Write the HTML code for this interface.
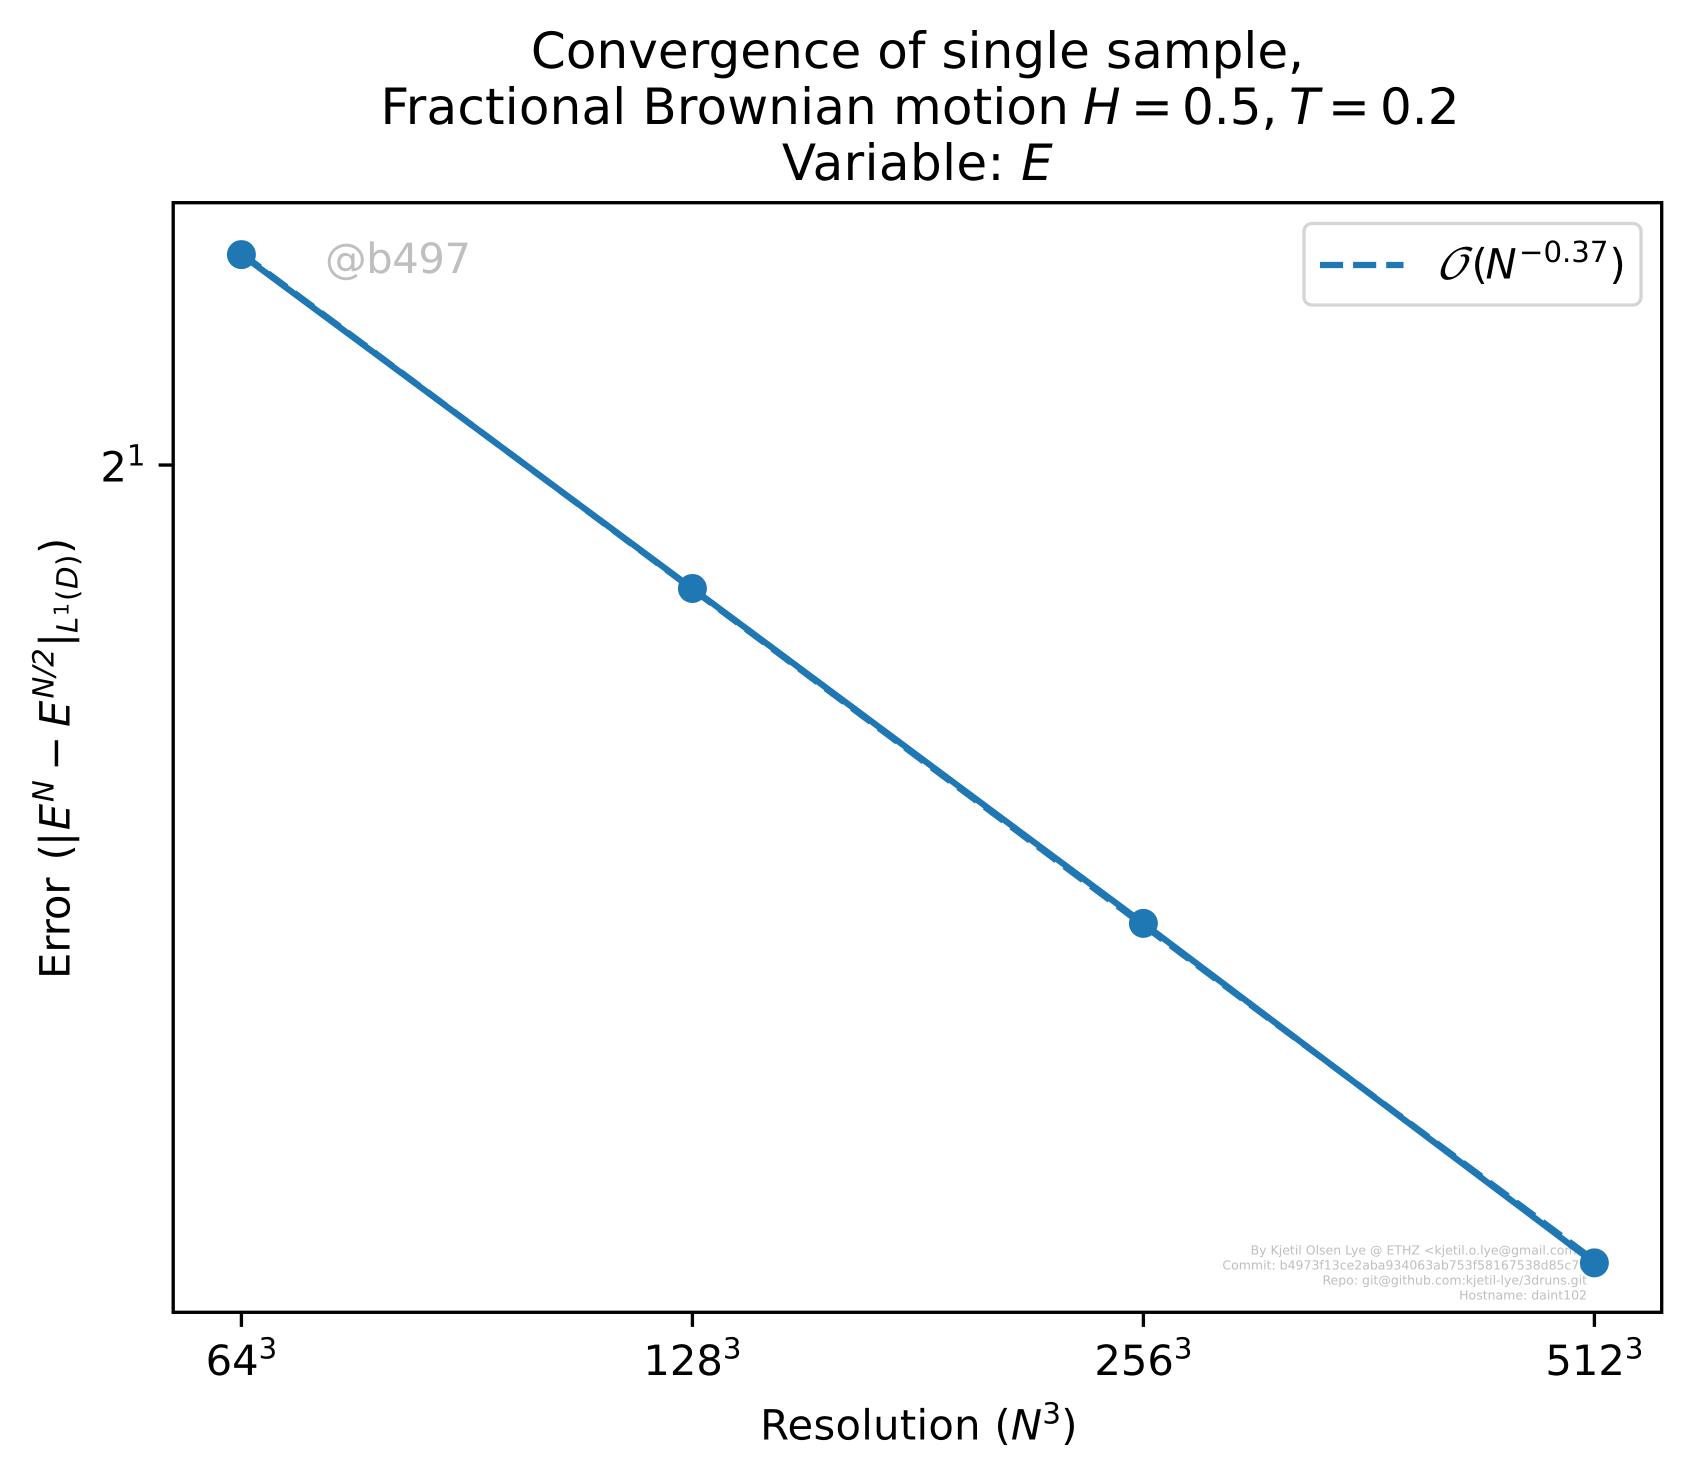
<!DOCTYPE html>
<html lang="en">
<head>
<meta charset="utf-8">
<title>Convergence of single sample</title>
<style>
html,body{margin:0;padding:0;background:#fff;}
svg{display:block;}
text{font-family:"DejaVu Sans","Liberation Sans",sans-serif;fill:#000;text-rendering:geometricPrecision;}
.it{font-style:italic;}
.wm{fill:#bfbfbf;}
</style>
</head>
<body>
<svg id="chart" xmlns="http://www.w3.org/2000/svg" width="1691" height="1478" viewBox="0 0 1691 1478">
  <rect x="0" y="0" width="1691" height="1478" fill="#fff"/>

  <g font-size="50">
    <text x="917.5" y="68" text-anchor="middle" letter-spacing="0.07">Convergence of single sample,</text>
    <text y="124"><tspan x="380.5" letter-spacing="0.17">Fractional Brownian motion</tspan><tspan class="it" x="1083">H</tspan><tspan x="1131">=</tspan><tspan x="1182">0.5,</tspan><tspan class="it" x="1289">T</tspan><tspan x="1328">=</tspan><tspan x="1380">0.2</tspan></text>
    <text x="917.5" y="180" text-anchor="middle" letter-spacing="0.4">Variable: <tspan class="it">E</tspan></text>
  </g>

  <text font-size="41.67" transform="translate(69.3,977) rotate(-90)"><tspan x="-2" y="0">Error</tspan><tspan x="116.5" y="0">(</tspan><tspan x="131" y="0">|</tspan><tspan class="it" x="146.8" y="0">E</tspan><tspan class="it" font-size="29.2" x="175" y="-16">N</tspan><tspan x="206.3" y="0">−</tspan><tspan class="it" x="250" y="0">E</tspan><tspan class="it" font-size="29.2" x="278.5" y="-16">N/2</tspan><tspan x="330" y="0">|</tspan><tspan class="it" font-size="29.2" x="344" y="8">L</tspan><tspan font-size="20.5" x="361" y="-1">1</tspan><tspan font-size="29.2" x="376" y="8">(</tspan><tspan class="it" font-size="29.2" x="388" y="8">D</tspan><tspan font-size="29.2" x="411" y="8">)</tspan><tspan x="423" y="0">)</tspan></text>

  <text font-size="41.67" x="919" y="1439.5" text-anchor="middle" letter-spacing="0.3">Resolution (<tspan class="it">N</tspan><tspan font-size="29.2" dy="-16">3</tspan><tspan dy="16">)</tspan></text>

  <g id="ticks"></g>

  <text class="wm" font-size="41.67" x="325" y="273" letter-spacing="-0.4">@b497</text>
  <g class="wm" font-size="12.5" text-anchor="end">
    <text class="wm" x="1587" y="1254.5">By Kjetil Olsen Lye @ ETHZ &lt;kjetil.o.lye@gmail.com&gt;</text>
    <text class="wm" x="1587" y="1269.5">Commit: b4973f13ce2aba934063ab753f58167538d85c7a</text>
    <text class="wm" x="1587" y="1284.5">Repo: git@github.com:kjetil-lye/3druns.git</text>
    <text class="wm" x="1587" y="1299.5">Hostname: daint102</text>
  </g>

  <g id="series"></g>

  <rect x="173.2" y="202.7" width="1488.5" height="1109.6" fill="none" stroke="#000" stroke-width="3.33"/>

  <g>
    <rect x="1304" y="223.5" width="337" height="81.5" rx="8" ry="8" fill="#fff" fill-opacity="0.8" stroke="#d5d5d5" stroke-width="3.33"/>
    <line x1="1320" y1="265" x2="1403.5" y2="265" stroke="#1f77b4" stroke-width="6.25" stroke-dasharray="23.1 10"/>
    <text font-size="41.67" y="278.3"><tspan class="it" x="1435.5" font-family="'DejaVu Math TeX Gyre','DejaVu Serif',serif">𝒪</tspan><tspan x="1471.5">(</tspan><tspan class="it" x="1485.5">N</tspan><tspan font-size="29.2" x="1519" y="262">−0.37</tspan><tspan x="1609.5" y="278.3">)</tspan></text>
  </g>
</svg>
<script>
// Chart data
var resolutions = [64, 128, 256, 512];
var errorValues = [2.349, 1.820, 1.409, 1.087];
var fitValues = [2.351, 1.819, 1.407, 1.089];
var xTickLabels = ['64', '128', '256', '512'];
var xTickExponents = ['3', '3', '3', '3'];
var yTickValues = [2];
var yTickBases = ['2'];
var yTickExponents = ['1'];
var xDomain = [57.63, 567.8];
var yDomain = [1.0467, 2.444];

var NS = 'http://www.w3.org/2000/svg';
var plot = {left: 173.2, right: 1661.7, top: 202.7, bottom: 1312.3};

function xScale(v) {
  var a = Math.log2(xDomain[0]), b = Math.log2(xDomain[1]);
  return plot.left + (Math.log2(v) - a) / (b - a) * (plot.right - plot.left);
}
function yScale(v) {
  var a = Math.log2(yDomain[0]), b = Math.log2(yDomain[1]);
  return plot.bottom - (Math.log2(v) - a) / (b - a) * (plot.bottom - plot.top);
}
function make(tag, attrs, parent) {
  var el = document.createElementNS(NS, tag);
  for (var k in attrs) { el.setAttribute(k, attrs[k]); }
  parent.appendChild(el);
  return el;
}
function linePoints(values) {
  return values.map(function (v, i) {
    return xScale(resolutions[i]).toFixed(2) + ',' + yScale(v).toFixed(2);
  }).join(' ');
}

var ticks = document.getElementById('ticks');
var series = document.getElementById('series');

xTickLabels.forEach(function (label, i) {
  var x = xScale(resolutions[i]);
  var tick = make('line', {x1: x, x2: x, y1: plot.bottom, y2: plot.bottom + 14.6, stroke: '#000', 'stroke-width': 3.33}, ticks);
  
  
  var text = make('text', {x: x, y: 1375, 'text-anchor': 'middle', 'font-size': 41.67}, ticks);
  
  
  text.textContent = label;
  var sup = make('tspan', {'font-size': 29.2, dy: -16.5}, text);
  sup.textContent = xTickExponents[i];
});

yTickValues.forEach(function (value, i) {
  var y = yScale(value);
  var tick = make('line', {x1: plot.left - 14.6, x2: plot.left, y1: y, y2: y, stroke: '#000', 'stroke-width': 3.33}, ticks);
  
  
  var text = make('text', {x: 145.5, y: y + 16.7, 'text-anchor': 'end', 'font-size': 41.67}, ticks);
  
  
  text.textContent = yTickBases[i];
  var sup = make('tspan', {'font-size': 29.2, dy: -16}, text);
  sup.textContent = yTickExponents[i];
});

var errorLine = make('polyline', {points: linePoints(errorValues), fill: 'none', stroke: '#1f77b4', 'stroke-width': 6.25, 'stroke-linecap': 'square', 'stroke-linejoin': 'round'}, series);



var fitLine = make('polyline', {points: linePoints(fitValues), fill: 'none', stroke: '#1f77b4', 'stroke-width': 6.25, 'stroke-dasharray': '23.1 10'}, series);



errorValues.forEach(function (value, i) {
  var point = make('circle', {cx: xScale(resolutions[i]), cy: yScale(value), r: 14.5, fill: '#1f77b4'}, series);
  
  
});
</script>
</body>
</html>
